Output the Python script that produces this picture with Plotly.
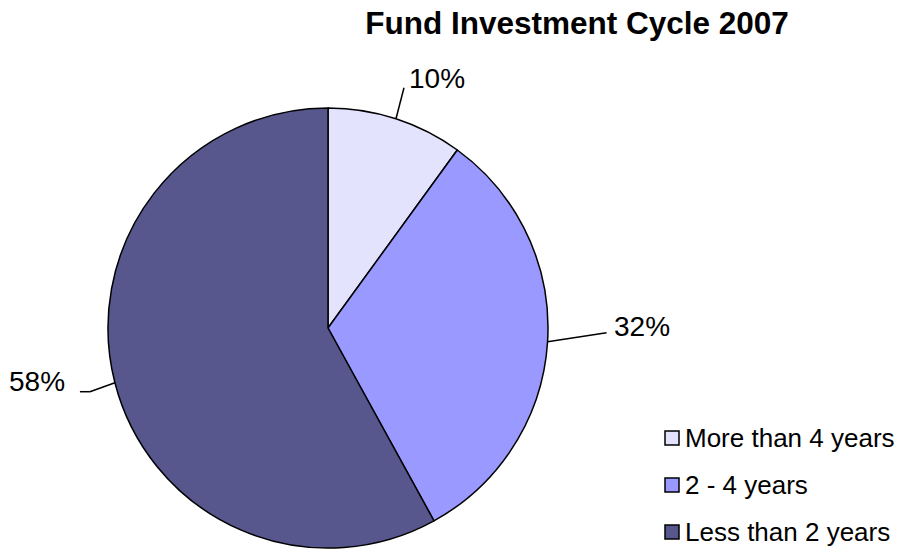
import math
import plotly.graph_objects as go

labels = ["More than 4 years", "2 - 4 years", "Less than 2 years"]
values = [10, 32, 58]
pct_text = ["10%", "32%", "58%"]
colors = ["#e3e3fd", "#9999ff", "#57578e"]

W, H = 899, 550
cx, cy, R = 328, 328, 220  # pie centre/radius in pixels (layout)
FONT = "Liberation Sans, Arial, sans-serif"

fig = go.Figure(go.Pie(
    labels=labels, values=values, sort=False, direction="clockwise", rotation=0,
    marker=dict(colors=colors, line=dict(color="black", width=1.5)),
    textinfo="none", hoverinfo="label+percent", showlegend=False,
    domain=dict(x=[(cx - R) / W, (cx + R) / W], y=[(H - cy - R) / H, (H - cy + R) / H]),
))

# leader-line styling (pixel offsets) per slice
leader = [(8, -31), (59, -9), (-25, 9)]
tail = [0, 0, -10]
txt_off = [(3, -9), (5, -6), (-13, -10)]

def P(px, py):
    return px / W, 1 - py / H

total = sum(values)
cum = 0
shapes, annos = [], []
for i, v in enumerate(values):
    th = 2 * math.pi * (cum + v / 2) / total
    cum += v
    x0, y0 = cx + R * math.sin(th), cy - R * math.cos(th)
    x1, y1 = x0 + leader[i][0], y0 + leader[i][1]
    x2, y2 = x1 + tail[i], y1
    for (a, b, c, d) in [(x0, y0, x1, y1), (x1, y1, x2, y2)]:
        if (a, b) != (c, d):
            pa, pb = P(a, b)
            pc, pd = P(c, d)
            shapes.append(dict(type="line", xref="paper", yref="paper", x0=pa, y0=pb, x1=pc, y1=pd,
                               line=dict(color="black", width=1.5)))
    tx, ty = P(x2 + txt_off[i][0], y2 + txt_off[i][1])
    annos.append(dict(x=tx, y=ty, xref="paper", yref="paper", text=pct_text[i], showarrow=False,
                      xanchor="left" if txt_off[i][0] > 0 else "right", yanchor="middle",
                      font=dict(family=FONT, size=28, color="black")))

# legend (square swatches + labels)
leg_x, leg_y0, leg_dy, sq = 665, 438, 47, 14
for i, lab in enumerate(labels):
    ry = leg_y0 + i * leg_dy
    ax0, ay0 = P(leg_x, ry - sq / 2)
    ax1, ay1 = P(leg_x + sq, ry + sq / 2)
    shapes.append(dict(type="rect", xref="paper", yref="paper", x0=ax0, y0=ay0, x1=ax1, y1=ay1,
                       fillcolor=colors[i], line=dict(color="black", width=1.5)))
    tx, ty = P(leg_x + sq + 4, ry)
    annos.append(dict(x=tx, y=ty, xref="paper", yref="paper", text=lab, showarrow=False,
                      xanchor="left", yanchor="middle",
                      font=dict(family=FONT, size=26, color="black")))

fig.update_layout(
    width=W, height=H,
    margin=dict(l=0, r=0, t=0, b=0),
    paper_bgcolor="white", plot_bgcolor="white",
    title=dict(text="<b>Fund Investment Cycle 2007</b>", x=577 / W, y=1 - 23 / H,
               xanchor="center", yanchor="middle",
               font=dict(family=FONT, size=31.5, color="black")),
    shapes=shapes, annotations=annos,
    showlegend=False,
)

fig.write_html("out.html", config={"displayModeBar": False},
               post_script="document.body.style.margin='0';")
